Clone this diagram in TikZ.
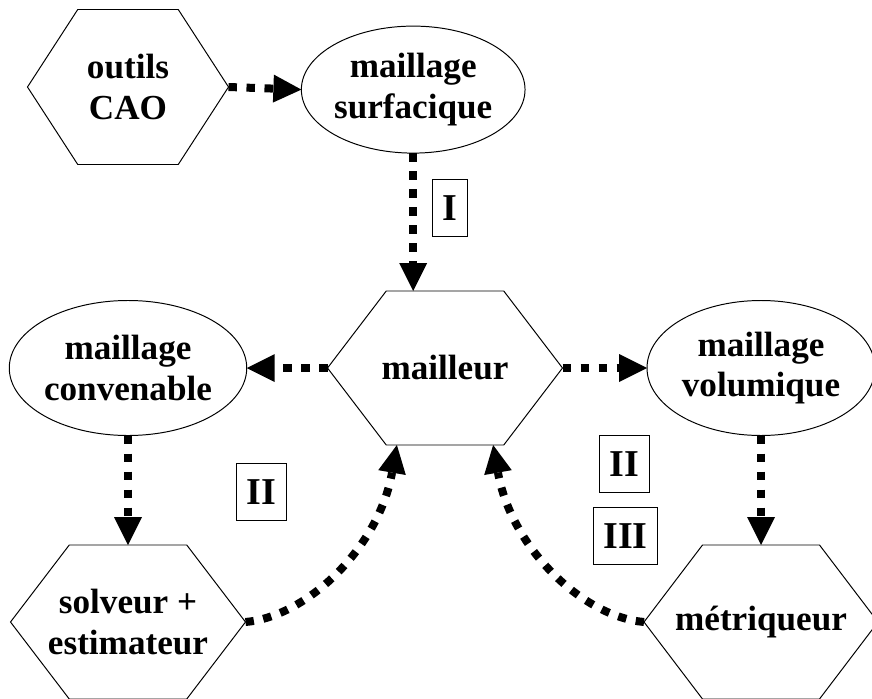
\documentclass[tikz,border=0pt]{standalone}
\usepackage{fontspec}
\setmainfont{Liberation Serif}
\usetikzlibrary{shapes.geometric,arrows.meta,calc}
\begin{document}
\begin{tikzpicture}[
        hexa/.style={minimum width=5.875cm, minimum height=3.85cm, inner sep=0pt, outer sep=0pt, align=center, font=\fontsize{25}{29}\selectfont\bfseries},
        ovale/.style={draw, shape=ellipse, line width=0.7pt, minimum width=5.8cm, minimum height=3.375cm, inner sep=0pt, outer sep=0pt, align=center, font=\fontsize{25}{29}\selectfont\bfseries},
        etape/.style={draw, line width=0.7pt, minimum height=1.425cm, inner xsep=0.25cm, inner ysep=0pt, font=\fontsize{27}{30}\selectfont\bfseries},
        fleche/.style={line width=0.2cm, dash pattern=on 0.21cm off 0.24cm, -{Triangle[length=0.7cm, width=0.7cm, line width=0pt]}}
    ]
            \useasboundingbox (0,0) rectangle (21.8,17.45);

            \node (outils) at (3.2,15.275) [hexa, minimum width=5.025cm, minimum height=3.875cm] {outils\\CAO};
            \node (surf) at (10.33,15.21) [ovale, minimum width=5.42cm, minimum height=3.175cm] {maillage\\surfacique};
            \node (mailleur) at (11.125,8.25) [hexa] {mailleur};
            \node (conv) at (3.2,8.25) [ovale, minimum width=5.9cm] {maillage\\convenable};
            \node (vol) at (19.025,8.25) [ovale, minimum width=5.7cm] {maillage\\volumique};
            \node (solveur) at (3.2,1.9) [hexa] {solveur +\\estimateur};
            \node (metriq) at (19.025,1.9) [hexa, minimum width=5.85cm] {métriqueur};

            % contours hexagonaux
            \foreach \h in {outils,mailleur,solveur,metriq}
                \draw[line width=0.7pt] (\h.west) -- ($(\h.north west)!.25!(\h.north east)$) -- ($(\h.north west)!.75!(\h.north east)$) -- (\h.east) -- ($(\h.south west)!.75!(\h.south east)$) -- ($(\h.south west)!.25!(\h.south east)$) -- cycle;

            \draw[fleche] (outils.east) -- (surf.west);
            \draw[fleche] (surf.south) -- (surf.south |- mailleur.north);
            \draw[fleche] (mailleur.west) -- (conv.east);
            \draw[fleche] (mailleur.east) -- (vol.west);
            \draw[fleche] (conv.south) -- (solveur.north);
            \draw[fleche] (vol.south) -- (metriq.north);
            \draw[fleche] (solveur.east) .. controls +(5:1.55) and +(260:2.6) .. (mailleur.-122);
            \draw[fleche] (metriq.west) .. controls +(175:1.55) and +(280:2.6) .. (mailleur.-58);

            \node (l1) at (11.24,12.24) [etape] {I};
            \node (l2) at (6.54,5.16) [etape] {II};
            \node (l3) at (15.61,5.85) [etape] {II};
            \node (l4) at (15.64,4.06) [etape] {III};
        \end{tikzpicture}
\end{document}
